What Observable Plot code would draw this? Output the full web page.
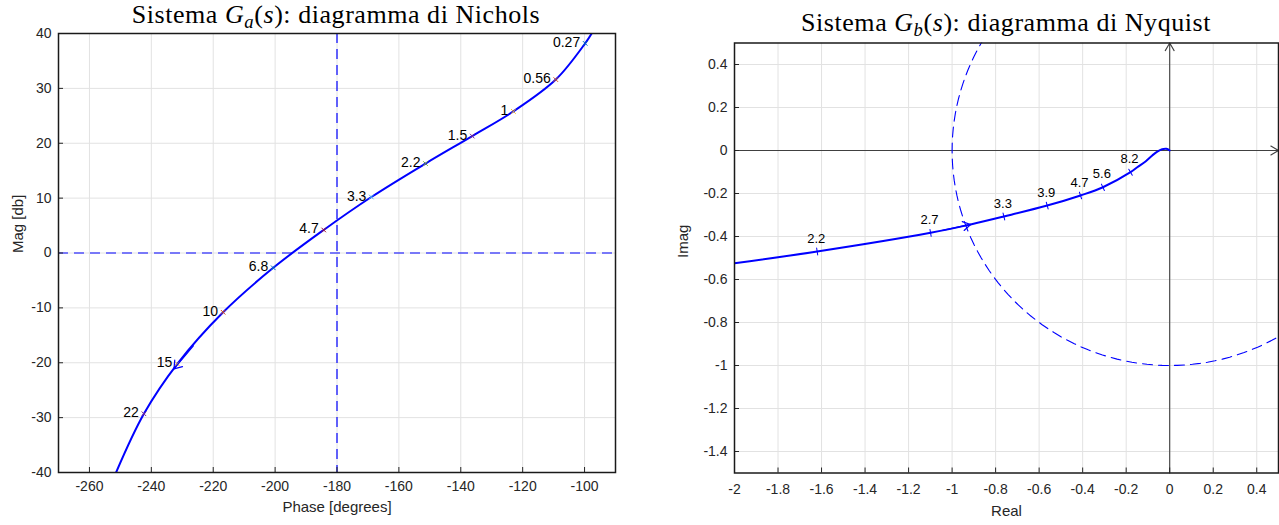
<!DOCTYPE html>
<html><head><meta charset="utf-8">
<script src="https://cdn.jsdelivr.net/npm/d3@7"></script>
<script src="https://cdn.jsdelivr.net/npm/@observablehq/plot@0.6"></script>
<style>
body{margin:0;background:#fff;}
#wrap{position:relative;width:1279px;height:525px;overflow:hidden;background:#fff}
.panel{position:absolute;top:0}
.title{position:absolute;font-family:"Liberation Serif","Times New Roman",serif;font-size:26px;line-height:26px;white-space:nowrap;color:#000;transform:translateX(-50%);letter-spacing:0.55px}
.title sub{font-size:72%;vertical-align:baseline;position:relative;top:0.28em}
</style></head><body>
<div id="wrap">
<div id="left" class="panel" style="left:0px"></div>
<div id="right" class="panel" style="left:640px"></div>
<div class="title" style="left:336px;top:2px">Sistema <i>G</i><sub><i>a</i></sub>(<i>s</i>): diagramma di Nichols</div>
<div class="title" style="left:1006px;top:10px">Sistema <i>G</i><sub><i>b</i></sub>(<i>s</i>): diagramma di Nyquist</div>
</div>
<script>
// ---------- Data: Nichols (G_a) ----------
const phaseDomain = [-270, -90];
const magDomain = [-40, 40];
const phaseTicks = [-260, -240, -220, -200, -180, -160, -140, -120, -100];
const magTicks = [-40, -30, -20, -10, 0, 10, 20, 30, 40];
const refPhase = [-180];
const refMag = [0];
const nicholsCurvePhase = [-97.7, -99.8, -109.3, -123.0, -136.3, -151.4, -168.9, -184.3, -200.6, -216.8, -231.6, -242.4, -251.4];
const nicholsCurveMag   = [40, 38.2, 31.6, 25.8, 21.3, 16.3, 10.2, 4.2, -2.7, -10.8, -20.2, -29.3, -40];
const nicholsFreq  = ["0.27", "0.56", "1", "1.5", "2.2", "3.3", "4.7", "6.8", "10", "15", "22"];
const nicholsPhase = [-99.8, -109.3, -123.0, -136.3, -151.4, -168.9, -184.3, -200.6, -216.8, -231.6, -242.4];
const nicholsMag   = [38.2, 31.6, 25.8, 21.3, 16.3, 10.2, 4.2, -2.7, -10.8, -20.2, -29.3];
const nicholsArrowAt = "15";

// ---------- Data: Nyquist (G_b) ----------
const realDomain = [-2, 0.5];
const imagDomain = [-1.5, 0.5];
const realTicks = [-2, -1.8, -1.6, -1.4, -1.2, -1, -0.8, -0.6, -0.4, -0.2, 0, 0.2, 0.4];
const imagTicks = [-1.4, -1.2, -1, -0.8, -0.6, -0.4, -0.2, 0, 0.2, 0.4];
const nyqCurveRe = [-2.0, -1.62, -1.099, -0.915, -0.762, -0.563, -0.410, -0.307, -0.180, -0.149, -0.111, -0.080, -0.057, -0.035, -0.015, 0];
const nyqCurveIm = [-0.524, -0.470, -0.383, -0.344, -0.307, -0.256, -0.209, -0.171, -0.101, -0.078, -0.051, -0.023, -0.005, 0.006, 0.008, 0];
const nyqFreq = ["2.2", "2.7", "3.3", "3.9", "4.7", "5.6", "8.2"];
const nyqRe   = [-1.62, -1.099, -0.762, -0.563, -0.410, -0.307, -0.180];
const nyqIm   = [-0.470, -0.383, -0.307, -0.256, -0.209, -0.171, -0.101];
const nyqArrowTip = {re: -0.915, im: -0.344};
const unitCircleRadius = 1;

// ---------- styles ----------
const matlabColors = ["#0072BD", "#D95319", "#EDB120", "#7E2F8E", "#77AC30", "#4DBEEE", "#A2142F"];
const gridColor = "#e2e2e2";
const axColor = "#262626";
const font = "'Liberation Sans', Arial, Helvetica, sans-serif";

// ---------- Left: Nichols ----------
const LA = {width: 640, height: 525, ml: 58, mr: 25, mt: 33, mb: 53};
const LfW = LA.width - LA.ml - LA.mr, LfH = LA.height - LA.mt - LA.mb;

const nCurve = nicholsCurvePhase.map((p, i) => ({phase: p, mag: nicholsCurveMag[i]}));
const nPts = nicholsFreq.map((f, i) => ({f, phase: nicholsPhase[i], mag: nicholsMag[i], c: matlabColors[i % matlabColors.length]}));
const ia = nicholsFreq.indexOf(nicholsArrowAt);
const p15 = nPts[ia], pNext = nPts[ia + 1], pPrev = nPts[ia - 1];
const nArrow = [{
  x1: p15.phase + 0.35 * (pPrev.phase - p15.phase), y1: p15.mag + 0.35 * (pPrev.mag - p15.mag),
  x2: p15.phase + 0.1 * (pNext.phase - p15.phase), y2: p15.mag + 0.1 * (pNext.mag - p15.mag)
}];

const left = Plot.plot({
  width: LA.width, height: LA.height,
  marginLeft: LA.ml, marginRight: LA.mr, marginTop: LA.mt, marginBottom: LA.mb,
  x: {domain: phaseDomain, label: null},
  y: {domain: magDomain, label: null},
  style: {fontFamily: font, fontSize: "14px", color: axColor, background: "transparent", overflow: "visible"},
  marks: [
    Plot.gridX(phaseTicks, {stroke: gridColor, strokeOpacity: 1, strokeWidth: 1}),
    Plot.gridY(magTicks, {stroke: gridColor, strokeOpacity: 1, strokeWidth: 1}),
    Plot.ruleX(refPhase, {stroke: "#0000ff", strokeWidth: 1.2, strokeDasharray: "10,6"}),
    Plot.ruleY(refMag, {stroke: "#0000ff", strokeWidth: 1.2, strokeDasharray: "10,6"}),
    Plot.line(nCurve, {x: "phase", y: "mag", curve: "catmull-rom", stroke: "#0000ff", strokeWidth: 2, clip: true}),
    Plot.dot(nPts, {x: "phase", y: "mag", symbol: "times", r: 2.2, stroke: "c", strokeWidth: 1}),
    Plot.text(nPts, {x: "phase", y: "mag", text: "f", textAnchor: "end", dx: -5, dy: -1, fontSize: 14, fill: "black"}),
    Plot.arrow(nArrow, {x1: "x1", y1: "y1", x2: "x2", y2: "y2", stroke: "#0000ff", strokeWidth: 1.2, headLength: 11, headAngle: 70}),
    Plot.tickX(phaseTicks, {x: d => d, insetTop: LfH - 5, stroke: axColor}),
    Plot.tickY(magTicks, {y: d => d, insetRight: LfW - 5, stroke: axColor}),
    Plot.axisX({ticks: phaseTicks, tickSize: 0, tickPadding: 9, tickFormat: d => String(d), label: null, fontSize: 14}),
    Plot.axisY({ticks: magTicks, tickSize: 0, tickPadding: 7, tickFormat: d => String(d), label: null, fontSize: 14}),
    Plot.frame({stroke: "#1a1a1a", strokeWidth: 1.5}),
    Plot.text(["Phase [degrees]"], {text: d => d, frameAnchor: "bottom", dy: 39, fontSize: 15, fill: axColor}),
    Plot.text(["Mag [db]"], {text: d => d, frameAnchor: "left", dx: -40, rotate: -90, fontSize: 15, fill: axColor})
  ]
});
document.getElementById("left").appendChild(left);

// ---------- Right: Nyquist ----------
const RA = {width: 639, height: 525, ml: 94, mr: 1, mt: 42.5, mb: 52.5};
const RfW = RA.width - RA.ml - RA.mr, RfH = RA.height - RA.mt - RA.mb;
const kx = RfW / (realDomain[1] - realDomain[0]);
const ky = RfH / (imagDomain[1] - imagDomain[0]);

const qCurve = nyqCurveRe.map((r, i) => ({re: r, im: nyqCurveIm[i]}));
const qPts = nyqFreq.map((f, i) => {
  const j = nyqCurveRe.indexOf(nyqRe[i]);
  const a = qCurve[Math.max(0, j - 1)], b = qCurve[Math.min(qCurve.length - 1, j + 1)];
  const dxp = (b.re - a.re) * kx, dyp = -(b.im - a.im) * ky;
  return {f, re: nyqRe[i], im: nyqIm[i], rot: Math.atan(dyp / dxp) * 180 / Math.PI};
});
const circle = d3.range(0, 361, 2).map(t => ({re: unitCircleRadius * Math.cos(t * Math.PI / 180), im: unitCircleRadius * Math.sin(t * Math.PI / 180)}));
const tipIdx = nyqCurveRe.indexOf(nyqArrowTip.re);
const prevQ = qCurve[tipIdx - 1];
const qArrow = [{
  x1: nyqArrowTip.re + 0.7 * (prevQ.re - nyqArrowTip.re), y1: nyqArrowTip.im + 0.7 * (prevQ.im - nyqArrowTip.im),
  x2: nyqArrowTip.re, y2: nyqArrowTip.im
}];
const axesArrows = [
  {x1: realDomain[0], y1: 0, x2: realDomain[1], y2: 0},
  {x1: 0, y1: imagDomain[0], x2: 0, y2: imagDomain[1]}
];
const lineShape = {draw(ctx, l) { ctx.moveTo(0, 0); ctx.lineTo(0, -l); }};

const right = Plot.plot({
  width: RA.width, height: RA.height,
  marginLeft: RA.ml, marginRight: RA.mr, marginTop: RA.mt, marginBottom: RA.mb,
  x: {domain: realDomain, label: null},
  y: {domain: imagDomain, label: null},
  style: {fontFamily: font, fontSize: "14px", color: axColor, background: "transparent", overflow: "visible"},
  marks: [
    Plot.gridX(realTicks, {stroke: gridColor, strokeOpacity: 1, strokeWidth: 1}),
    Plot.gridY(imagTicks, {stroke: gridColor, strokeOpacity: 1, strokeWidth: 1}),
    Plot.arrow(axesArrows, {x1: "x1", y1: "y1", x2: "x2", y2: "y2", stroke: "#404040", strokeWidth: 1.1, headLength: 12, headAngle: 60}),
    Plot.line(circle, {x: "re", y: "im", stroke: "#0000ff", strokeWidth: 1.1, strokeDasharray: "10,6", clip: true}),
    Plot.line(qCurve, {x: "re", y: "im", curve: "catmull-rom", stroke: "#0000ff", strokeWidth: 2, clip: true}),
    Plot.vector(qPts, {x: "re", y: "im", length: 7, rotate: "rot", anchor: "middle", shape: lineShape, stroke: "#0000ff", strokeWidth: 1}),
    Plot.text(qPts, {x: "re", y: "im", text: "f", dy: -13, dx: -1, fontSize: 13, fill: "black"}),
    Plot.arrow(qArrow, {x1: "x1", y1: "y1", x2: "x2", y2: "y2", stroke: "#0000ff", strokeWidth: 1.2, headLength: 11, headAngle: 62}),
    Plot.tickX(realTicks, {x: d => d, insetTop: RfH - 5, stroke: axColor}),
    Plot.tickY(imagTicks, {y: d => d, insetRight: RfW - 5, stroke: axColor}),
    Plot.axisX({ticks: realTicks, tickSize: 0, tickPadding: 11, tickFormat: d => String(d), label: null, fontSize: 14}),
    Plot.axisY({ticks: imagTicks, tickSize: 0, tickPadding: 7, tickFormat: d => String(d), label: null, fontSize: 14}),
    Plot.frame({stroke: "#1a1a1a", strokeWidth: 1.5}),
    Plot.text(["Real"], {text: d => d, frameAnchor: "bottom", dy: 43, fontSize: 15, fill: axColor}),
    Plot.text(["Imag"], {text: d => d, frameAnchor: "left", dx: -51, rotate: -90, fontSize: 15, fill: axColor})
  ]
});
document.getElementById("right").appendChild(right);
</script>
</body></html>
